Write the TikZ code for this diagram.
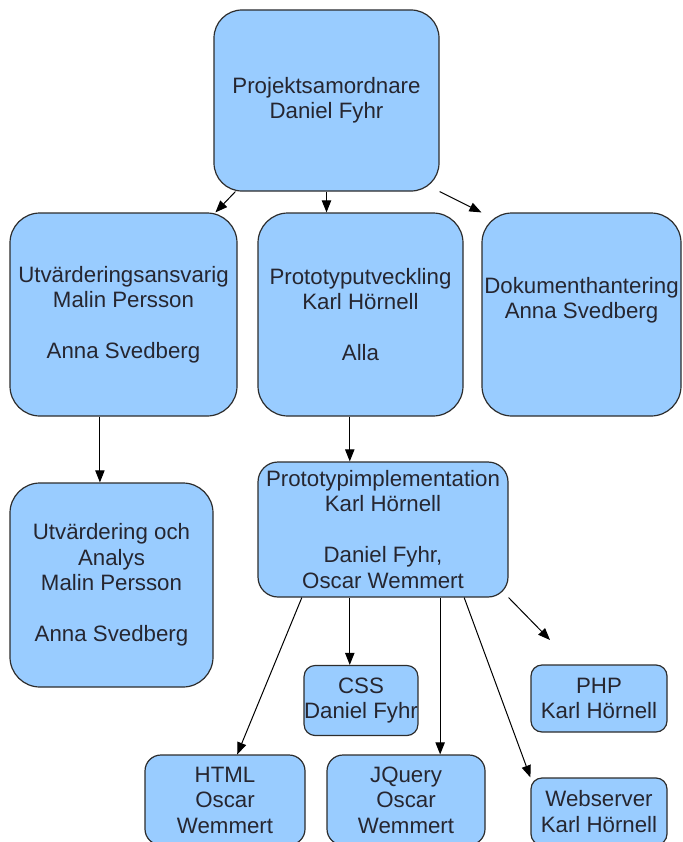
\documentclass[tikz,border=0pt]{standalone}
\usepackage{fontspec}
\setmainfont{Liberation Sans}
\usetikzlibrary{arrows.meta}

\begin{document}
\begin{tikzpicture}[x=0.75pt,y=0.75pt,yscale=-1,xscale=1,
  rbox/.style={draw={rgb, 255:red, 45; green, 45; blue, 45}, line width=0.9pt, fill={rgb, 255:red, 153; green, 204; blue, 255}, text={rgb, 255:red, 38; green, 38; blue, 48}, align=center, inner sep=0pt, font=\fontsize{16.7}{19.1}\selectfont},
  link/.style={draw=black, line width=0.75pt, -{Triangle[length=9pt,width=7pt]}}]
\useasboundingbox (0,0) rectangle (682,842);

%Rounded Rect
\draw (326.5,100.5) node (samord) [rbox, minimum width=168.75pt, minimum height=135.75pt, rounded corners=21pt] {Projektsamordnare\\Daniel Fyhr};
%Rounded Rect
\draw (123.5,314.5) node (utvansv) [rbox, minimum width=170.25pt, minimum height=152.25pt, rounded corners=22.5pt] {Utvärderingsansvarig\\Malin Persson\\[19.1pt]Anna Svedberg};
%Rounded Rect
\draw (360.5,314.5) node (protoutv) [rbox, minimum width=153.75pt, minimum height=152.25pt, rounded corners=22.5pt] {Prototyputveckling\\Karl Hörnell\\[19.1pt]Alla};
%Rounded Rect
\draw (581.5,314.5) node (dokument) [rbox, minimum width=149.25pt, minimum height=152.25pt, rounded corners=22.5pt] {Dokumenthantering\\Anna Svedberg\\\strut};
%Rounded Rect
\draw (111.5,585) node (analys) [rbox, minimum width=152.25pt, minimum height=153pt, rounded corners=22.5pt] {Utvärdering och\\Analys\\Malin Persson\\[19.1pt]Anna Svedberg};
%Rounded Rect
\draw (383,529.5) node (impl) [rbox, minimum width=187.5pt, minimum height=101.25pt, rounded corners=15pt] {Prototypimplementation\\Karl Hörnell\\[19.1pt]Daniel Fyhr,\\Oscar Wemmert};
%Rounded Rect
\draw (361,700.5) node (css) [rbox, minimum width=84pt, minimum height=52.5pt, rounded corners=8.25pt] {CSS\\Daniel Fyhr};
%Rounded Rect
\draw (599,698.5) node (php) [rbox, minimum width=102pt, minimum height=50.25pt, rounded corners=8.25pt] {PHP\\Karl Hörnell};
%Rounded Rect
\draw (225,800) node (html) [rbox, minimum width=120pt, minimum height=67.5pt, rounded corners=12pt] {HTML\\Oscar\\Wemmert};
%Rounded Rect
\draw (406,800) node (jquery) [rbox, minimum width=118.5pt, minimum height=67.5pt, rounded corners=12pt] {JQuery\\Oscar\\Wemmert};
%Rounded Rect
\draw (599,811.5) node (webserver) [rbox, minimum width=102pt, minimum height=50.25pt, rounded corners=8.25pt] {Webserver\\Karl Hörnell};

\coordinate (phpend) at (550,640);

%Straight Lines
\draw [link] (samord.-135) -- (utvansv.48);
\draw [link] (samord.south) -- (samord.south |- protoutv.north);
\draw [link] (samord.south east) -- (dokument.north west);
%Straight Lines
\draw [link] (utvansv.-103) -- (utvansv.-103 |- analys.north);
\draw [link] (protoutv.-96) -- (protoutv.-96 |- impl.north);
%Straight Lines
\draw [link] (impl.-140) -- (html.75);
\draw [link] (impl.-116) -- (impl.-116 |- css.north);
\draw [link] (impl.-50) -- (impl.-50 |- jquery.north);
\draw [link] (impl.-40) -- (webserver.north west);
\draw [link] (impl.south east) -- (phpend);

\end{tikzpicture}
\end{document}
